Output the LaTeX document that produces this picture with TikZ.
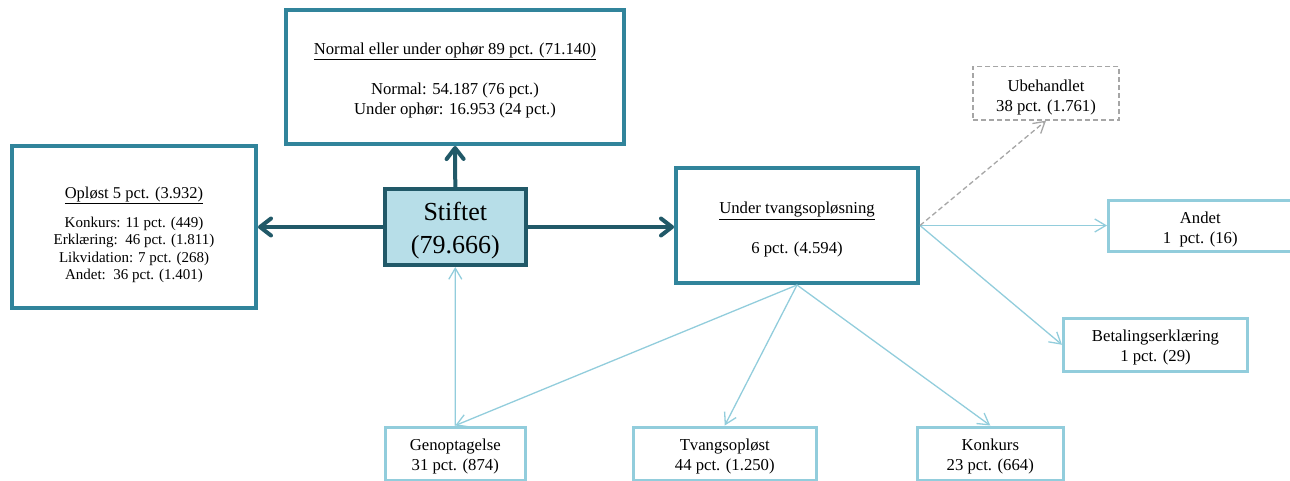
\documentclass[tikz,border=0pt]{standalone}
\usepackage{fontspec}
\setmainfont{Liberation Serif}
\usetikzlibrary{arrows.meta}
\definecolor{cBox}{HTML}{31849B}
\definecolor{cDark}{HTML}{215968}
\definecolor{cFill}{HTML}{B7DEE8}
\definecolor{cLight}{HTML}{92CDDC}
\definecolor{cGray}{HTML}{A6A6A6}
\newcommand\topstrut[1]{\rule{0pt}{#1}}
\tikzset{
  bigbox/.style={draw=cBox, line width=4pt, fill=white, align=center, inner sep=0pt,
    font=\fontsize{16.7}{20}\selectfont},
  stbox/.style={draw=cDark, line width=4pt, fill=cFill, align=center, inner sep=0pt,
    font=\fontsize{26}{33}\selectfont},
  lightbox/.style={draw=cLight, line width=3pt, fill=white, align=center, inner sep=0pt,
    font=\fontsize{16.7}{20}\selectfont},
  graybox/.style={draw=cGray, line width=1.2pt, dash pattern=on 5pt off 3pt, fill=white,
    align=center, inner sep=0pt, font=\fontsize{16.7}{20}\selectfont},
  darrow/.style={draw=cDark, line width=4pt, -{Straight Barb[length=11pt,width=17pt,round]}},
  larrow/.style={draw=cLight, line width=1.3pt, -{Straight Barb[length=11pt,width=13pt]}},
  garrow/.style={draw=cGray, line width=1.3pt, dash pattern=on 5pt off 3pt,
    -{Straight Barb[length=11pt,width=13pt]}},
}
\begin{document}
\begin{tikzpicture}[x=1pt,y=-1pt]
\path[use as bounding box, clip] (0,0) rectangle (1290,480);
% main boxes
\node[bigbox, minimum width=338pt, minimum height=134.5pt] (top) at (455,76.75)
  {\topstrut{19pt}\underline{Normal eller under ophør 89 pct. (71.140)}\\[20pt]
   Normal: 54.187 (76 pct.)\\ Under ophør: 16.953 (24 pct.)};
\node[bigbox, minimum width=244pt, minimum height=162pt,
  font=\fontsize{15}{17.5}\selectfont] (op) at (134,227)
  {{\fontsize{16.5}{17.5}\selectfont\topstrut{27.5pt}\underline{Opløst 5 pct. (3.932)}}\\[11.5pt]
   Konkurs: 11 pct. (449)\\ Erklæring:\ \ 46 pct. (1.811)\\
   Likvidation: 7 pct. (268)\\ Andet:\ \ 36 pct. (1.401)};
\node[stbox, minimum width=141pt, minimum height=76pt] (st) at (455.3,227)
  {\topstrut{26pt}Stiftet\\(79.666)};
\node[bigbox, minimum width=242pt, minimum height=115pt] (ut) at (797,225.5)
  {\topstrut{20pt}\underline{Under tvangsopløsning}\\[20pt] 6 pct. (4.594)};
% outcome boxes
\node[graybox, minimum width=146pt, minimum height=53.3pt] (ub) at (1046,93.4)
  {\topstrut{20pt}Ubehandlet\\38 pct. (1.761)};
\node[lightbox, minimum width=183.5pt, minimum height=51pt] (an) at (1200.25,225.5)
  {\topstrut{19pt}Andet\\1\ \ pct. (16)};
\node[lightbox, minimum width=184pt, minimum height=52.5pt] (be) at (1155.5,344.75)
  {\topstrut{18pt}Betalingserklæring\\1 pct. (29)};
\node[lightbox, minimum width=140.5pt, minimum height=53pt] (gen) at (455.25,453.5)
  {\topstrut{18pt}Genoptagelse\\31 pct. (874)};
\node[lightbox, minimum width=182.5pt, minimum height=53pt] (tv) at (724.75,453.5)
  {\topstrut{18pt}Tvangsopløst\\44 pct. (1.250)};
\node[lightbox, minimum width=145.5pt, minimum height=53pt] (ko) at (990.25,453.5)
  {\topstrut{18pt}Konkurs\\23 pct. (664)};
% connectors
\draw[darrow] (st.north) -- (top.south);
\draw[darrow] (st.west) -- (st.west -| op.east);
\draw[darrow] (st.east) -- (st.east -| ut.west);
\draw[larrow] (gen.north) -- (st.south);
\draw[larrow] (ut.south) -- (gen.north);
\draw[larrow] (ut.south) -- (tv.north);
\draw[larrow] (ut.south) -- (ko.north);
\draw[larrow] (ut.east) -- (an.west);
\draw[larrow] (ut.east) -- (be.west);
\draw[garrow] (ut.east) -- (ub.south);
\end{tikzpicture}
\end{document}
